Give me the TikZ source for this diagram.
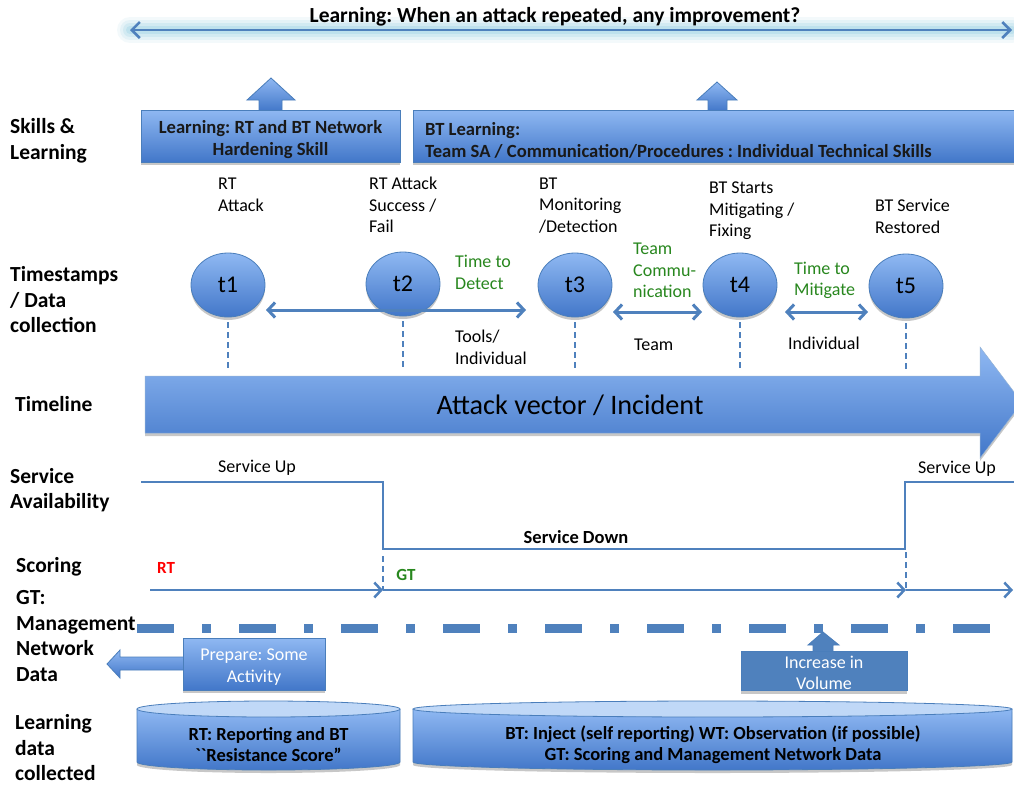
\documentclass[tikz,border=0pt]{standalone}
\usepackage{fontspec}
\setmainfont{Carlito}[Ligatures=TeXOff]
\usetikzlibrary{arrows.meta,shapes.geometric,calc,shadows}

\definecolor{lineblue}{RGB}{79,129,189}
\definecolor{edgeblue}{RGB}{74,126,187}
\definecolor{shadetop}{RGB}{143,184,242}
\definecolor{shadebot}{RGB}{66,119,201}
\definecolor{cylcap}{RGB}{192,216,247}
\definecolor{notegreen}{RGB}{40,135,30}
\definecolor{glowcyan}{RGB}{160,212,230}

\tikzset{
  rowlabel/.style={font=\fontsize{21.5}{25.5}\selectfont\bfseries, align=left, anchor=west, inner sep=0pt},
  evtlabel/.style={font=\fontsize{18}{21.5}\selectfont, align=left, anchor=west, inner sep=0pt},
  greennote/.style={evtlabel, text=notegreen},
  plaintext/.style={font=\fontsize{18}{21.5}\selectfont, inner sep=0pt},
  boldtext/.style={font=\fontsize{18.5}{21}\selectfont\bfseries, inner sep=0pt},
  gradfill/.style={top color=shadetop, bottom color=shadebot},
  softshadow/.style={drop shadow={shadow xshift=0pt, shadow yshift=-3pt, opacity=0.22, fill=black}},
  stampnode/.style={ellipse, draw=edgeblue, line width=0.8pt, gradfill, softshadow,
    minimum width=74pt, minimum height=64pt, inner sep=0pt, font=\fontsize{24}{26}\selectfont},
  skillbox/.style={draw=edgeblue, line width=0.8pt, gradfill, softshadow, minimum height=52pt, inner sep=0pt},
  skilltext/.style={font=\fontsize{18.6}{22}\selectfont\bfseries, text=black!90, inner sep=0pt},
  notebox/.style={draw=edgeblue, line width=0.8pt, inner sep=0pt, softshadow},
  notetext/.style={font=\fontsize{18}{21.5}\selectfont, text=white, align=center, inner sep=0pt},
  blockarrow/.style={draw=edgeblue, line width=0.8pt, gradfill},
  stampdash/.style={lineblue, line width=2.5pt, dash pattern=on 6pt off 4pt},
  barb/.tip={Straight Barb[length=7pt,width=15pt]},
  spanarrow/.style={lineblue, line width=3pt, barb-barb},
  levelline/.style={lineblue, line width=2.5pt},
}

\begin{document}
\frenchspacing
\begin{tikzpicture}[x=1pt,y=-1pt]
\useasboundingbox (0,0) rectangle (1014,785);
\fill[white] (0,0) rectangle (1014,785);
\clip (0,0) rectangle (1014,785);

% ---------- repeated-attack learning arrow with glow ----------
\coordinate (lrnL) at (130,30);
\coordinate (lrnR) at (1012,30);
\foreach \w/\o in {26/0.12, 20/0.18, 14/0.26, 8/0.38}
  \draw[glowcyan, line width=\w pt, opacity=\o, line cap=round] (lrnL) -- (lrnR);
\draw[lineblue, line width=2.5pt, {Straight Barb[length=8pt,width=16pt]}-{Straight Barb[length=8pt,width=16pt]}] (lrnL) -- (lrnR);
\node[font=\fontsize{21.5}{24}\selectfont\bfseries, inner sep=0pt] (title) at (555,17)
  {Learning: When an attack repeated, any improvement?};

% ---------- skills & learning ----------
\path[blockarrow] (259,111) -- (259,100) -- (247,100) -- (271,78) -- (295,100) -- (282,100) -- (282,111) -- cycle;
\path[blockarrow] (708,111) -- (708,100) -- (697,100) -- (717,82) -- (737,100) -- (727,100) -- (727,111) -- cycle;
\node[skillbox, minimum width=259pt] (skill1) at (270.5,136) {};
\node[skilltext, align=center] (skill1txt) at (270.5,140) {Learning: RT and BT Network\\Hardening Skill};
\node[skillbox, minimum width=603pt] (skill2) at (714.5,136) {};
\node[skilltext, align=left, anchor=west] (skill2txt) at (425,140)
  {BT Learning:\\Team SA / Communication/Procedures : Individual Technical Skills};

% ---------- row labels ----------
\node[rowlabel] (rowSkills) at (10,141) {Skills \&\\Learning};
\node[rowlabel] (rowStamps) at (10,300) {Timestamps\\/ Data\\collection};
\node[rowlabel] (rowTime) at (15,404) {Timeline};
\node[rowlabel] (rowSvc) at (10,490) {Service\\Availability};
\node[rowlabel] (rowScore) at (16,567) {Scoring};
\node[rowlabel] (rowMgmt) at (16,636) {GT:\\Management\\Network\\Data};
\node[rowlabel] (rowData) at (15,748) {Learning\\data\\collected};

% ---------- event descriptions ----------
\node[evtlabel] (e1) at (218,195) {RT\\Attack};
\node[evtlabel] (e2) at (369,205) {RT Attack\\Success /\\Fail};
\node[evtlabel] (e3) at (539,205.5) {BT\\Monitoring\\/Detection};
\node[evtlabel] (e4) at (709,211) {BT Starts\\Mitigating /\\Fixing};
\node[evtlabel] (e5) at (875,216.5) {BT Service\\Restored};

% ---------- timeline arrow ----------
\coordinate (tltop) at (0,370);
\path[gradfill, softshadow, draw=edgeblue!60, line width=0.5pt]
  (145,376) -- (980,376) -- (980,347) -- (1022,402.5) -- (980,458) -- (980,433) -- (145,433) -- cycle;
\node[font=\fontsize{28.2}{30}\selectfont, inner sep=0pt] (tlabel) at (570,405) {Attack vector / Incident};

% ---------- timestamps ----------
\node[stampnode] (t1) at (228,285) {t1};
\node[stampnode] (t2) at (403,284) {t2};
\node[stampnode] (t3) at (575,285) {t3};
\node[stampnode] (t4) at (740,285) {t4};
\node[stampnode] (t5) at (906,286) {t5};

\foreach \t in {t1,t2,t3,t4,t5}
  \draw[stampdash] ($(\t.south)+(0,5)$) -- (\t.south |- tltop);

\draw[spanarrow] ($(t1.center)+(38,25)$) -- ($(t3.center)+(-49,25)$);
\draw[spanarrow] ($(t3.center)+(38,27)$) -- ($(t4.center)+(-38,27)$);
\draw[spanarrow] ($(t4.center)+(45,27)$) -- ($(t5.center)+(-38,26)$);

\node[greennote] (g1) at (455,272.5) {Time to\\Detect};
\node[greennote] (g2) at (633,270.5) {Team\\Commu-\\nication};
\node[greennote] (g3) at (794,280.5) {Time to\\Mitigate};
\node[evtlabel] (w1) at (455,347.5) {Tools/\\Individual};
\node[evtlabel] (w2) at (634,345) {Team};
\node[evtlabel] (w3) at (788,343) {Individual};

% ---------- service availability ----------
\coordinate (sv0) at (141,482);
\coordinate (sv1) at (383,482);
\coordinate (sv2) at (383,549);
\coordinate (sv3) at (905,549);
\coordinate (sv4) at (905,482);
\coordinate (sv5) at (1014,482);
\draw[levelline] (sv0) -- (sv1) -- (sv2) -- (sv3) -- (sv4) -- (sv5);
\node[plaintext] (up1) at (257,468) {Service Up};
\node[plaintext] (up2) at (957,469) {Service Up};
\node[boldtext] (down) at (576,537) {Service Down};

% ---------- scoring ----------
\coordinate (sc0) at (150,590);
\coordinate (sc1) at (383,590);
\coordinate (sc2) at (906,590);
\coordinate (sc3) at (1013,590);
\draw[levelline, -barb] (sc0) -- (sc1);
\draw[levelline, -barb] (sc1) -- (sc2);
\draw[levelline, -barb] (sc2) -- (sc3);
\draw[stampdash] ($(sv2)+(0,7)$) -- (sc1);
\draw[stampdash] ($(sv3)+(1,3)$) -- (sc2);
\node[inner sep=0pt, font=\fontsize{17}{20}\selectfont\bfseries, text=red] (rt) at (166,568) {RT};
\node[inner sep=0pt, font=\fontsize{17}{20}\selectfont\bfseries, text=notegreen] (gt) at (406,575) {GT};

% ---------- management network data ----------
\coordinate (mg0) at (137,628);
\coordinate (mg1) at (1014,628);
\draw[lineblue, line width=9pt, dash pattern=on 37pt off 28pt on 9pt off 28pt] (mg0) -- (mg1);

\path[blockarrow] (184,657) -- (120,657) -- (120,650) -- (107,664) -- (120,678) -- (120,670) -- (184,670) -- cycle;
\node[notebox, gradfill, minimum width=142pt, minimum height=52pt] (prep) at (254,664) {};
\node[notetext] (preptxt) at (254,667) {Prepare: Some\\Activity};

\path[draw=edgeblue, line width=0.8pt, fill=lineblue] (813,652) -- (813,645) -- (808,645) -- (823,632) -- (839,645) -- (833,645) -- (833,652) -- cycle;
\node[notebox, fill=lineblue, minimum width=166pt, minimum height=39pt] (vol) at (824,671) {};
\node[notetext] (voltxt) at (824,673) {Increase in\\Volume};

% ---------- learning data stores ----------
\path[gradfill, softshadow] (137,709) -- (137,762) arc[start angle=180, end angle=0, x radius=131.5, y radius=8] -- (400,709) -- cycle;
\draw[edgeblue, line width=0.8pt] (137,709) -- (137,762) arc[start angle=180, end angle=0, x radius=131.5, y radius=8] -- (400,709);
\draw[edgeblue, line width=0.8pt, fill=cylcap] (268.5,709) ellipse [x radius=131.5, y radius=8];
\node[boldtext, align=center] (storeRT) at (268.5,745)
  {RT: Reporting and BT\\``Resistance Score”};

\path[gradfill, softshadow] (413,709) -- (413,762) arc[start angle=180, end angle=0, x radius=299.5, y radius=8] -- (1012,709) -- cycle;
\draw[edgeblue, line width=0.8pt] (413,709) -- (413,762) arc[start angle=180, end angle=0, x radius=299.5, y radius=8] -- (1012,709);
\draw[edgeblue, line width=0.8pt, fill=cylcap] (712.5,709) ellipse [x radius=299.5, y radius=8];
\node[boldtext, align=center] (storeBT) at (713,744.5)
  {BT: Inject (self reporting) WT: Observation (if possible)\\GT: Scoring and Management Network Data};
\end{tikzpicture}
\end{document}
